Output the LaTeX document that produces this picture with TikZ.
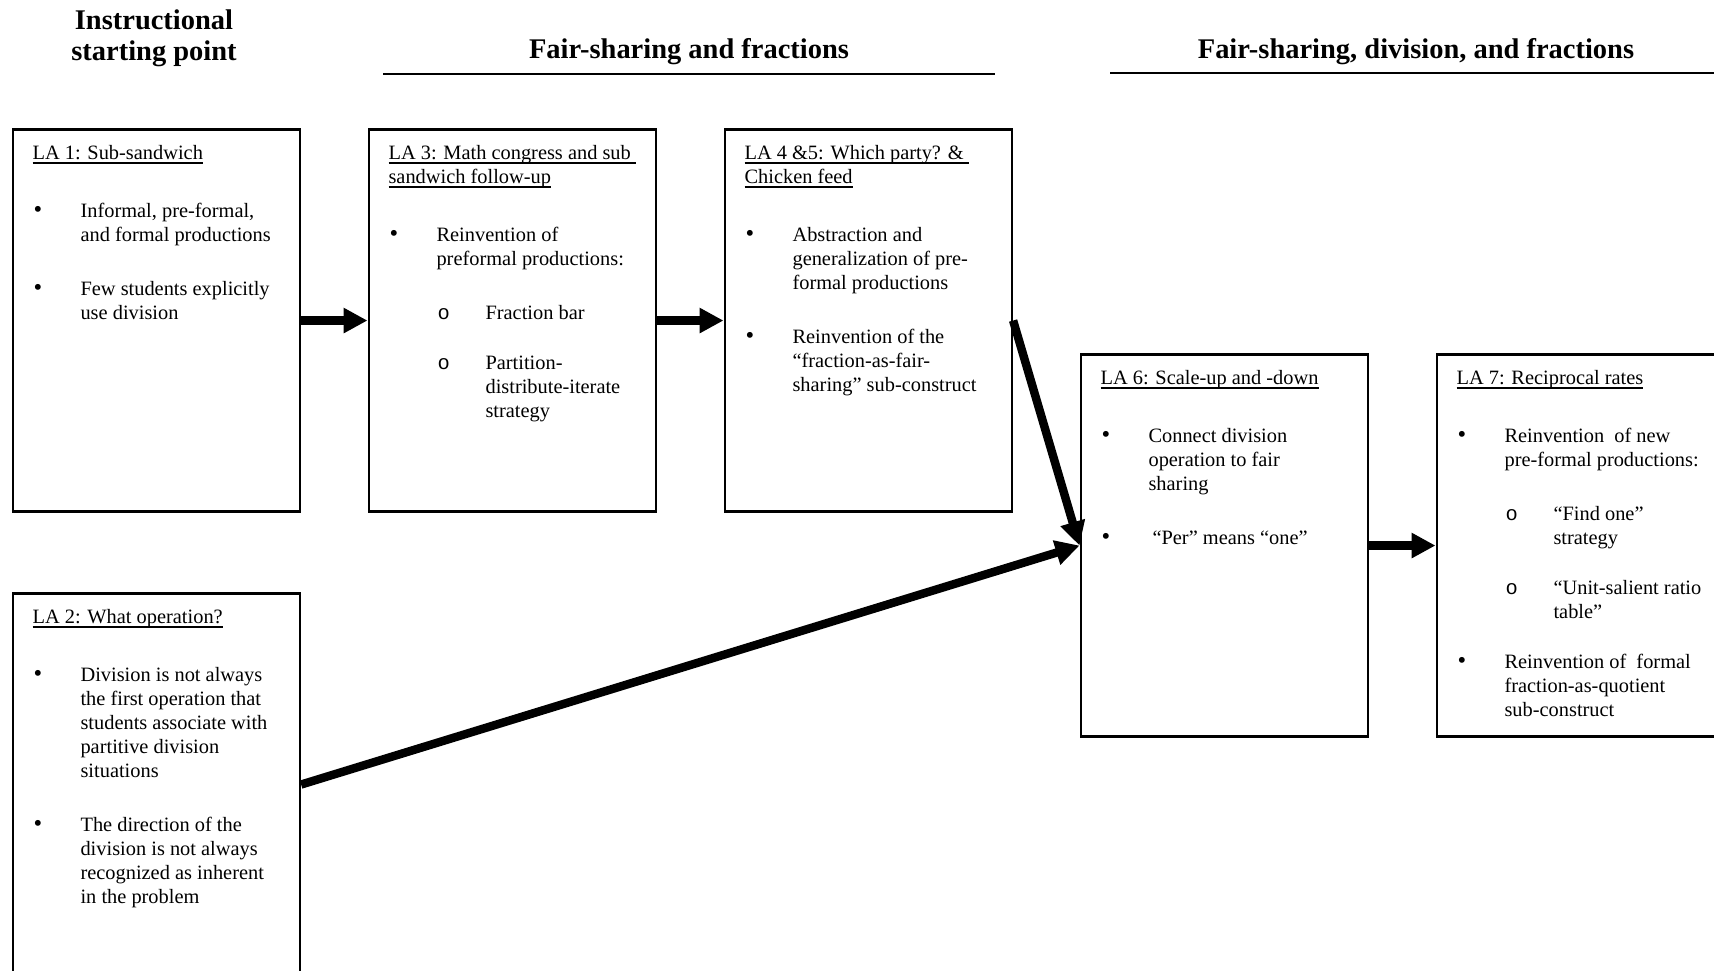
\documentclass[tikz,border=0pt]{standalone}
\usepackage{fontspec}
\setmainfont{Liberation Serif}
\setmonofont{Liberation Mono}
\usetikzlibrary{arrows.meta,positioning}

% box contents
\newcommand{\labody}[1]{\parbox[c][3.82cm][t]{2.875cm}{\fontsize{5.8}{6.83}\selectfont
  \leftskip=0.2cm\rightskip=0pt plus 3cm\vspace*{0.13cm}#1}}
\newcommand{\laul}[1]{\leavevmode\setbox0\hbox{#1}\rlap{\raisebox{-1.2pt}[0pt][0pt]{\rule{\wd0}{0.35pt}}}\box0}
\newcommand{\latitle}[1]{\noindent\strut#1\par\vspace{0.34cm}}
\newcommand{\bul}[1]{\noindent\hangindent=0.48cm\hangafter=1\makebox[0.48cm][l]{\hspace{0.01cm}{\fontsize{7}{6.83}\selectfont\textbullet}}#1\par\vspace{0.3cm}}
\newcommand{\subbul}[1]{\noindent\hangindent=0.97cm\hangafter=1\makebox[0.97cm][l]{\hspace{0.49cm}\texttt{o}}#1\par\vspace{0.26cm}}

\tikzset{
  labox/.style={draw, line width=0.6pt, anchor=north west, inner sep=0pt},
  head/.style={font=\fontsize{8.1}{8.8}\selectfont\bfseries, align=center},
  flow/.style={line width=2.4pt, -{Triangle[length=0.24cm, width=0.24cm]}},
}

\begin{document}
\begin{tikzpicture}
    \useasboundingbox (0,0) rectangle (17.14,-9.71);

    % headings
    \node[head] (hstart) at (1.54,-0.385) {Instructional\\starting point};
    \node[head] (hfair) at (6.89,-0.52) {Fair-sharing and fractions};
    \node[head] (hdiv) at (14.16,-0.52) {Fair-sharing, division, and fractions};
    \draw[line width=0.6pt] (3.83,-0.74) -- (9.95,-0.74);
    \draw[line width=0.6pt] (11.10,-0.73) -- (17.14,-0.73);

    % learning activities
    \node[labox] (la1) at (0.115,-1.285) {\labody{
        \latitle{\laul{LA 1: Sub-sandwich}}
        \bul{Informal, pre-formal,\\and formal productions}
        \bul{Few students explicitly\\use division}}};
    \node[labox] (la3) at (3.675,-1.285) {\labody{
        \latitle{\laul{LA 3: Math congress and sub\ }\\\laul{sandwich follow-up}}
        \bul{Reinvention of\\preformal productions:}
        \subbul{Fraction bar}
        \subbul{Partition-\\distribute-iterate\\strategy}}};
    \node[labox] (la4) at (7.235,-1.285) {\labody{
        \latitle{\laul{LA 4 \&5: Which party? \&\ }\\\laul{Chicken feed}}
        \bul{Abstraction and\\generalization of pre-\\formal productions}
        \bul{Reinvention of the\\“fraction-as-fair-\\sharing” sub-construct}}};
    \node[labox] (la2) at (0.115,-5.925) {\labody{
        \latitle{\laul{LA 2: What operation?}}
        \bul{Division is not always\\the first operation that\\students associate with\\partitive division\\situations}
        \bul{The direction of the\\division is not always\\recognized as inherent\\in the problem}}};
    \node[labox] (la6) at (10.795,-3.535) {\labody{
        \latitle{\laul{LA 6: Scale-up and -down}}
        \bul{Connect division\\operation to fair\\sharing}
        \bul{\hspace{0.04cm}“Per” means “one”}}};
    \node[labox] (la7) at (14.355,-3.535) {\labody{
        \latitle{\laul{LA 7: Reciprocal rates}}
        \bul{Reinvention\ \ of new\\pre-formal productions:}
        \subbul{“Find one”\\strategy}
        \subbul{“Unit-salient ratio\\table”}
        \bul{Reinvention of\ \ formal\\fraction-as-quotient\\sub-construct}}};

    % arrows
    \draw[flow] (la1.east) -- (la3.west);
    \draw[flow] (la3.east) -- (la4.west);
    \draw[flow] (la4.east) -- (la6.west);
    \draw[flow] (la2.east) -- (la6.west);
    \draw[flow] (la6.east) -- (la7.west);
\end{tikzpicture}
\end{document}
